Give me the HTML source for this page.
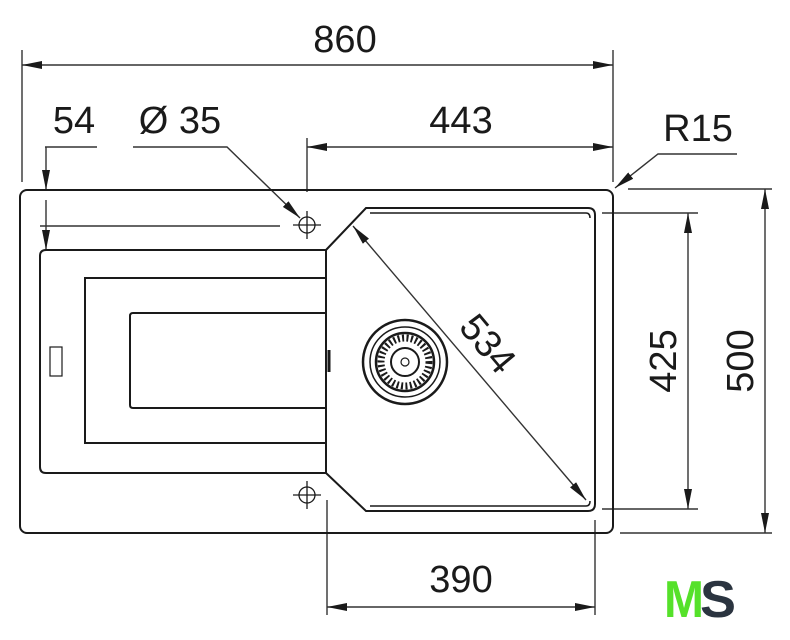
<!DOCTYPE html>
<html><head><meta charset="utf-8"><style>
html,body{margin:0;padding:0;background:#fff;}
svg{display:block;}
text{font-family:"Liberation Sans",Arial,sans-serif;fill:#1a1a1a;}
</style></head><body>
<svg width="790" height="640" viewBox="0 0 790 640" xmlns="http://www.w3.org/2000/svg">
<defs>
<marker id="a" viewBox="0 0 20 8" refX="20" refY="4" markerWidth="20" markerHeight="8" markerUnits="userSpaceOnUse" orient="auto-start-reverse">
<path d="M0,0 L20,4 L0,8 Z" fill="#1a1a1a"/></marker>
</defs>
<g stroke="#333" stroke-width="1.4" fill="none">
<!-- extension lines -->
<line x1="22" y1="50" x2="22" y2="182"/>
<line x1="613" y1="50" x2="613" y2="182"/>
<line x1="307" y1="138" x2="307" y2="192"/>
<line x1="45" y1="147" x2="97" y2="147"/>
<line x1="40" y1="226" x2="280" y2="226"/>
<line x1="602" y1="213" x2="698" y2="213"/>
<line x1="602" y1="509" x2="698" y2="509"/>
<line x1="628" y1="189" x2="772" y2="189"/>
<line x1="620" y1="533" x2="772" y2="533"/>
<line x1="327" y1="500" x2="327" y2="615"/>
<line x1="595" y1="520" x2="595" y2="615"/>
<!-- Ø35 leader -->
<polyline points="133,147 227,147 300,218" marker-end="url(#a)"/>
<!-- R15 leader -->
<polyline points="737,154 658,154 615,188" marker-end="url(#a)"/>
<!-- dims -->
<line x1="22" y1="65" x2="613" y2="65" marker-start="url(#a)" marker-end="url(#a)"/>
<line x1="307" y1="147" x2="613" y2="147" marker-start="url(#a)" marker-end="url(#a)"/>
<line x1="46" y1="147" x2="46" y2="190" marker-end="url(#a)"/>
<line x1="46" y1="200" x2="46" y2="250" marker-end="url(#a)"/>
<line x1="688" y1="213" x2="688" y2="509" marker-start="url(#a)" marker-end="url(#a)"/>
<line x1="765" y1="189" x2="765" y2="533" marker-start="url(#a)" marker-end="url(#a)"/>
<line x1="327" y1="607" x2="595" y2="607" marker-start="url(#a)" marker-end="url(#a)"/>
<line x1="353" y1="226" x2="586" y2="500" marker-start="url(#a)" marker-end="url(#a)"/>
</g>
<g stroke="#1a1a1a" fill="none" stroke-width="2">
<rect x="20" y="190" width="593" height="343" rx="7"/>
<!-- drainer -->
<path d="M326,250 L46,250 Q40,250 40,256 L40,467 Q40,473 46,473 L326,473 Z"/>
<path d="M326,278 L85,278 L85,443 L326,443"/>
<path d="M326,313 L133,313 Q130,313 130,316 L130,405 Q130,408 133,408 L326,408"/>
<rect x="50" y="347" width="12" height="29" stroke-width="1.2"/>
<!-- bowl -->
<path d="M326,250 L366,208 L588,208 Q595,208 595,215 L595,504 Q595,511 588,511 L366,511 L326,473" stroke-width="2"/>
<path d="M370,213 L586,213 Q590,213 590,218" stroke-width="1.5"/>
<path d="M370,506 L586,506 Q590,506 590,501" stroke-width="1.5"/>
<path d="M329,350 L329,372" stroke-width="3"/>
</g>
<!-- tap holes -->
<g stroke="#1a1a1a" fill="none" stroke-width="1.3">
<circle cx="307" cy="225" r="8"/><line x1="293" y1="225" x2="321" y2="225"/><line x1="307" y1="211" x2="307" y2="239"/>
<circle cx="307" cy="495" r="8"/><line x1="293" y1="495" x2="321" y2="495"/><line x1="307" y1="481" x2="307" y2="509"/>
</g>
<!-- drain -->
<g stroke="#1a1a1a" fill="none">
<circle cx="405" cy="362" r="42" stroke-width="2.5"/>
<circle cx="405" cy="362" r="35" stroke-width="1.5"/>
<circle cx="405" cy="362" r="29" stroke-width="2.5"/>
<circle cx="405" cy="362" r="24" stroke-width="7" stroke-dasharray="2 2.4"/>
<circle cx="405" cy="362" r="14" stroke-width="2"/>
<circle cx="405" cy="362" r="4" stroke-width="1.2"/>
</g>
<!-- labels -->
<g font-size="38">
<text x="345" y="52" text-anchor="middle">860</text>
<text x="74" y="133" text-anchor="middle">54</text>
<text x="180" y="133" text-anchor="middle">Ø 35</text>
<text x="461" y="133" text-anchor="middle">443</text>
<text x="698" y="141" text-anchor="middle">R15</text>
<text x="461" y="592" text-anchor="middle">390</text>
<text transform="translate(676,361) rotate(-90)" text-anchor="middle">425</text>
<text transform="translate(753,361) rotate(-90)" text-anchor="middle">500</text>
<text transform="translate(478,352) rotate(50)" text-anchor="middle">534</text>
</g>
<!-- logo -->
<text x="664" y="617" font-size="52" font-weight="bold" style="fill:#55e12a" textLength="40" lengthAdjust="spacingAndGlyphs">M</text>
<text x="700" y="617" font-size="52" font-weight="bold" style="fill:#2b3440" textLength="36" lengthAdjust="spacingAndGlyphs">S</text>
</svg>
</body></html>
